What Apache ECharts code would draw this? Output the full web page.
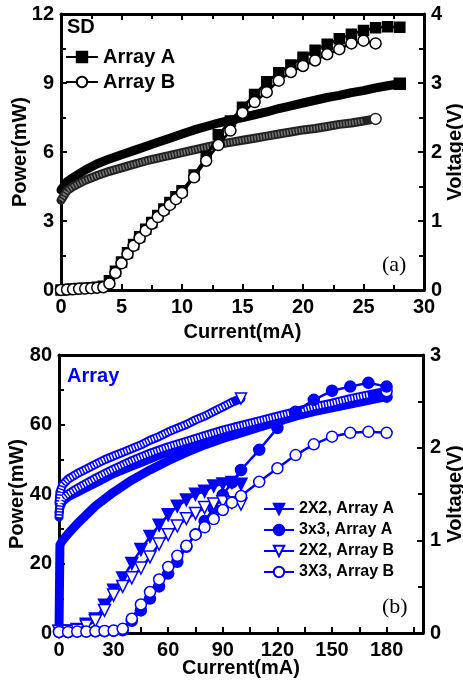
<!DOCTYPE html>
<html>
<head>
<meta charset="utf-8">
<script src="https://cdn.jsdelivr.net/npm/echarts@6/dist/echarts.min.js"></script>
<style>
  html, body { margin: 0; padding: 0; background: #fff; }
  #chart { width: 463px; height: 683px; }
</style>
</head>
<body>
<div id="chart"></div>
<script>
// ---- (a) SD : power (left axis) ----
const sdCurPowA = [0, 0.5, 1, 1.5, 2, 2.5, 3, 3.5, 4, 4.5, 5, 5.5, 6, 6.5, 7, 7.5, 8, 8.5, 9, 9.5, 10,
  11, 12, 13, 14, 15, 16, 17, 18, 19, 20, 21, 22, 23, 24, 25, 26, 27, 28];
const sdPowA = [0, 0.02, 0.04, 0.06, 0.08, 0.1, 0.12, 0.16, 0.4, 0.82, 1.22, 1.62, 1.98, 2.32, 2.64, 2.94, 3.24, 3.52, 3.8, 4.05, 4.32,
  5.0, 5.8, 6.75, 7.35, 7.95, 8.5, 9.05, 9.45, 9.78, 10.12, 10.42, 10.68, 10.92, 11.12, 11.28, 11.4, 11.45, 11.42];
const sdCurPowB = [0, 0.5, 1, 1.5, 2, 2.5, 3, 3.5, 4, 4.5, 5, 5.5, 6, 6.5, 7, 7.5, 8, 8.5, 9, 9.5, 10,
  11, 12, 13, 14, 15, 16, 17, 18, 19, 20, 21, 22, 23, 24, 25, 26];
const sdPowB = [0, 0.02, 0.03, 0.05, 0.06, 0.08, 0.1, 0.12, 0.28, 0.74, 1.16, 1.56, 1.92, 2.26, 2.58, 2.88, 3.17, 3.45, 3.7, 3.95, 4.22,
  4.9, 5.62, 6.3, 6.93, 7.7, 8.17, 8.6, 9.1, 9.48, 9.74, 9.98, 10.25, 10.47, 10.72, 10.84, 10.72];

// ---- (a) SD : voltage (right axis) ----
const sdCurVoltA = [0, 0.5, 1, 2, 3, 4, 5, 6, 7, 8, 9, 10, 11, 12, 13, 14, 15, 16, 17, 18, 19, 20, 21, 22, 23, 24, 25, 26, 27, 28];
const sdVoltA = [1.45, 1.57, 1.63, 1.74, 1.83, 1.9, 1.96, 2.02, 2.08, 2.14, 2.2, 2.26, 2.32, 2.37, 2.42, 2.46, 2.5, 2.54, 2.58, 2.63,
  2.67, 2.71, 2.75, 2.79, 2.82, 2.86, 2.89, 2.93, 2.96, 2.99];
const sdCurVoltB = [0, 0.5, 1, 2, 3, 4, 5, 6, 7, 8, 9, 10, 11, 12, 13, 14, 15, 16, 17, 18, 19, 20, 21, 22, 23, 24, 25, 26];
const sdVoltB = [1.3, 1.44, 1.5, 1.59, 1.66, 1.72, 1.77, 1.82, 1.87, 1.91, 1.95, 1.99, 2.03, 2.07, 2.11, 2.14, 2.17, 2.2, 2.23, 2.26,
  2.29, 2.32, 2.34, 2.37, 2.4, 2.42, 2.45, 2.48];

// ---- (b) Array : power (left axis) ----
const arrCur2 = [0, 5, 10, 15, 20, 25, 30, 35, 40, 45, 50, 55, 60, 65, 70, 75, 80, 85, 90, 95, 100];
const arrPow2A = [0.5, 0.6, 1.0, 2.5, 4, 8, 12.3, 15.8, 20, 24, 27.8, 31, 34, 36.5, 38.3, 39.9, 40.8, 42.3, 42.9, 43.3, 42.8];
const arrPow2B = [0.4, 0.5, 0.8, 2.0, 3.5, 6.5, 10.9, 13.4, 15.9, 18.7, 21.9, 25.6, 28.3, 30.8, 32.9, 34.4, 36.1, 37.1, 37.8, 37.5, 37.1];
const arrCur3A = [0, 5, 10, 15, 20, 25, 30, 35, 40, 45, 50, 55, 60, 65, 70, 75, 80, 85, 90, 95,
  100, 110, 120, 130, 140, 150, 160, 170, 180];
const arrPow3A = [0.3, 0.3, 0.4, 0.4, 0.5, 0.5, 0.6, 0.8, 3.5, 6.5, 9.9, 13.4, 17.1, 20.5, 24.8, 28.4, 32.2, 35.8, 39.7, 43.3,
  46.9, 52.7, 59, 63.7, 67.1, 69.7, 70.9, 72, 70.9];
const arrCur3B = [0, 5, 10, 15, 20, 25, 30, 35, 40, 45, 50, 55, 60, 65, 70, 75, 80, 85, 90, 95,
  100, 110, 120, 130, 140, 150, 160, 170, 180];
const arrPow3B = [0.3, 0.3, 0.4, 0.4, 0.5, 0.6, 0.7, 1.2, 4.1, 8.2, 11.8, 15.4, 19, 22.2, 25.1, 28.3, 30.4, 32.8, 35.4, 37.5,
  39.4, 43.5, 47.4, 51.2, 54.3, 56.5, 57.6, 57.9, 57.6];

// ---- (b) Array : voltage (right axis) ----
const arrCurV2 = [0, 0.5, 2, 5, 10, 15, 20, 25, 30, 35, 40, 45, 50, 55, 60, 65, 70, 75, 80, 85, 90, 95, 100];
const arrVolt2A = [1.3, 1.36, 1.42, 1.47, 1.52, 1.57, 1.62, 1.67, 1.72, 1.76, 1.8, 1.84, 1.88, 1.92, 1.96, 2.0, 2.03, 2.06, 2.09, 2.12, 2.15, 2.18, 2.21];
const arrVolt2B = [1.4, 1.52, 1.6, 1.66, 1.72, 1.77, 1.82, 1.87, 1.91, 1.95, 1.99, 2.03, 2.08, 2.12, 2.17, 2.21, 2.25, 2.3, 2.34, 2.39, 2.44, 2.49, 2.53];
const arrCurV3 = [0, 0.5, 2, 5, 10, 20, 30, 40, 50, 60, 70, 80, 90, 100, 110, 120, 130, 140, 150, 160, 170, 180];
const arrVolt3A = [0, 0.95, 1.0, 1.07, 1.18, 1.37, 1.52, 1.65, 1.76, 1.86, 1.95, 2.03, 2.1, 2.16, 2.22, 2.28, 2.34, 2.39, 2.43, 2.47, 2.51, 2.55];
const arrVolt3B = [1.25, 1.38, 1.45, 1.5, 1.56, 1.67, 1.77, 1.86, 1.94, 2.01, 2.07, 2.13, 2.19, 2.24, 2.29, 2.34, 2.39, 2.44, 2.48, 2.53, 2.57, 2.61];

const blue = '#0000ff';
const font = "'Liberation Sans', Arial, sans-serif";

function pairs(xs, ys) { return xs.map((x, i) => [x, ys[i]]); }

const axisLine = { show: true, onZero: false, lineStyle: { color: '#000', width: 3 } };
const tickStyle = { color: '#000', width: 2 };
const labelStyle = { color: '#000', fontSize: 20, fontWeight: 'bold', fontFamily: font };
const nameStyle = { color: '#000', fontSize: 20, fontWeight: 'bold', fontFamily: font };

function valueAxis(opts) {
  return Object.assign({
    type: 'value',
    axisLine: axisLine,
    axisTick: { show: true, inside: true, length: 6, lineStyle: tickStyle },
    minorTick: { show: true, splitNumber: 2, length: 5, lineStyle: tickStyle },
    axisLabel: Object.assign({ margin: 7 }, labelStyle),
    splitLine: { show: false },
    minorSplitLine: { show: false },
    nameLocation: 'middle',
    nameMoveOverlap: false,
    nameTextStyle: nameStyle
  }, opts);
}

// thick band of dense markers, drawn as a wide line
function band(name, xs, ys, xi, yi, color, width, endSymbol, endFill, rotate) {
  const n = xs.length;
  return {
    name: name, type: 'line', xAxisIndex: xi, yAxisIndex: yi,
    data: pairs(xs, ys),
    symbol: endSymbol, symbolRotate: rotate || 0,
    symbolSize: (v, p) => (p.dataIndex === n - 1 ? 11 : 0),
    itemStyle: { color: endFill, borderColor: color, borderWidth: 1.5 },
    lineStyle: { color: color, width: width, cap: 'round', join: 'round' },
    silent: true, z: 2
  };
}
// hatched look for the bands made of open markers
function hatch(name, xs, ys, xi, yi, color, width) {
  return {
    name: name, type: 'line', xAxisIndex: xi, yAxisIndex: yi,
    data: pairs(xs, ys), symbol: 'none',
    lineStyle: { color: color, width: width, type: [1.5, 1.5] },
    silent: true, z: 3
  };
}
function marks(name, xs, ys, xi, yi, color, symbol, size, fill, rotate) {
  return {
    name: name, type: 'line', xAxisIndex: xi, yAxisIndex: yi,
    data: pairs(xs, ys),
    symbol: symbol, symbolSize: size, symbolRotate: rotate || 0,
    itemStyle: { color: fill, borderColor: color, borderWidth: 1.5 },
    lineStyle: { color: color, width: 2.5 },
    z: 4
  };
}

const chart = echarts.init(document.getElementById('chart'), null, { renderer: 'canvas' });

chart.setOption({
  animation: false,
  backgroundColor: '#fff',
  grid: [
    { left: 61, top: 14, width: 363, height: 276, outerBoundsMode: 'none' },
    { left: 59, top: 355, width: 364, height: 278, outerBoundsMode: 'none' }
  ],
  xAxis: [
    valueAxis({ gridIndex: 0, min: 0, max: 30, interval: 5, name: 'Current(mA)', nameGap: 32 }),
    valueAxis({ gridIndex: 0, position: 'top', min: 0, max: 30, interval: 5, axisLabel: { show: false } }),
    valueAxis({
      gridIndex: 1, min: 0, max: 200, interval: 15, name: 'Current(mA)', nameGap: 25,
      minorTick: { show: false },
      axisLabel: Object.assign({ margin: 7, formatter: v => (v % 30 === 0 && v <= 180 ? String(v) : '') }, labelStyle)
    }),
    valueAxis({ gridIndex: 1, position: 'top', min: 0, max: 200, interval: 20, axisTick: { show: false }, minorTick: { show: false }, axisLabel: { show: false } })
  ],
  yAxis: [
    valueAxis({ gridIndex: 0, min: 0, max: 12, interval: 3, name: 'Power(mW)', nameGap: 31 }),
    valueAxis({ gridIndex: 0, position: 'right', min: 0, max: 4, interval: 1, name: 'Voltage(V)', nameGap: 21, nameRotate: 90 }),
    valueAxis({ gridIndex: 1, min: 0, max: 80, interval: 20, name: 'Power(mW)', nameGap: 32 }),
    valueAxis({ gridIndex: 1, position: 'right', min: 0, max: 3, interval: 1, name: 'Voltage(V)', nameGap: 22, nameRotate: 90 })
  ],
  legend: [
    {
      data: ['Array A', 'Array B'], orient: 'vertical', left: 65, top: 47, padding: 0,
      itemWidth: 32, itemHeight: 13, itemGap: 5,
      textStyle: { color: '#000', fontSize: 20, fontWeight: 'bold', fontFamily: font }
    },
    {
      data: ['2X2, Array A', '3x3, Array A', '2X2, Array B', '3X3, Array B'], orient: 'vertical', left: 263, top: 501, padding: 0,
      itemWidth: 30, itemHeight: 13, itemGap: 5,
      textStyle: { color: '#000', fontSize: 16, fontWeight: 'bold', fontFamily: font }
    }
  ],
  graphic: [
    { type: 'text', left: 67, top: 17, style: { text: 'SD', fill: '#000', font: 'bold 20px ' + font } },
    { type: 'text', left: 382, top: 254, style: { text: '(a)', fill: '#000', font: '22px "Liberation Serif", serif' } },
    { type: 'text', left: 67, top: 366, style: { text: 'Array', fill: blue, font: 'bold 20px ' + font } },
    { type: 'text', left: 382, top: 596, style: { text: '(b)', fill: '#000', font: '22px "Liberation Serif", serif' } }
  ],
  series: [
    // (a) voltage bands
    band('SD A voltage', sdCurVoltA, sdVoltA, 0, 1, '#000', 9, 'rect', '#000'),
    band('SD B voltage', sdCurVoltB, sdVoltB, 0, 1, '#222', 9, 'circle', '#fff'),
    hatch('SD B hatch', sdCurVoltB.slice(0, -1), sdVoltB.slice(0, -1), 0, 1, '#777', 5),
    // (a) power
    marks('Array A', sdCurPowA, sdPowA, 0, 0, '#000', 'rect', 10, '#000'),
    marks('Array B', sdCurPowB, sdPowB, 0, 0, '#000', 'circle', 11, '#fff'),

    // (b) voltage bands
    band('3x3 A voltage', arrCurV3, arrVolt3A, 2, 3, blue, 9, 'circle', blue),
    band('2X2 A voltage', arrCurV2, arrVolt2A, 2, 3, blue, 9, 'triangle', blue, 180),
    band('3X3 B voltage', arrCurV3, arrVolt3B, 2, 3, blue, 9, 'circle', '#fff'),
    hatch('3X3 B hatch', arrCurV3.slice(0, -1), arrVolt3B.slice(0, -1), 2, 3, '#fff', 5),
    band('2X2 B voltage', arrCurV2, arrVolt2B, 2, 3, blue, 9, 'triangle', '#fff', 180),
    hatch('2X2 B hatch', arrCurV2.slice(0, -1), arrVolt2B.slice(0, -1), 2, 3, '#fff', 5),
    // (b) power
    marks('2X2, Array A', arrCur2, arrPow2A, 2, 2, blue, 'triangle', 12, blue, 180),
    marks('3x3, Array A', arrCur3A, arrPow3A, 2, 2, blue, 'circle', 11, blue),
    marks('2X2, Array B', arrCur2, arrPow2B, 2, 2, blue, 'triangle', 12, '#fff', 180),
    marks('3X3, Array B', arrCur3B, arrPow3B, 2, 2, blue, 'circle', 11, '#fff')
  ]
});
</script>
</body>
</html>
